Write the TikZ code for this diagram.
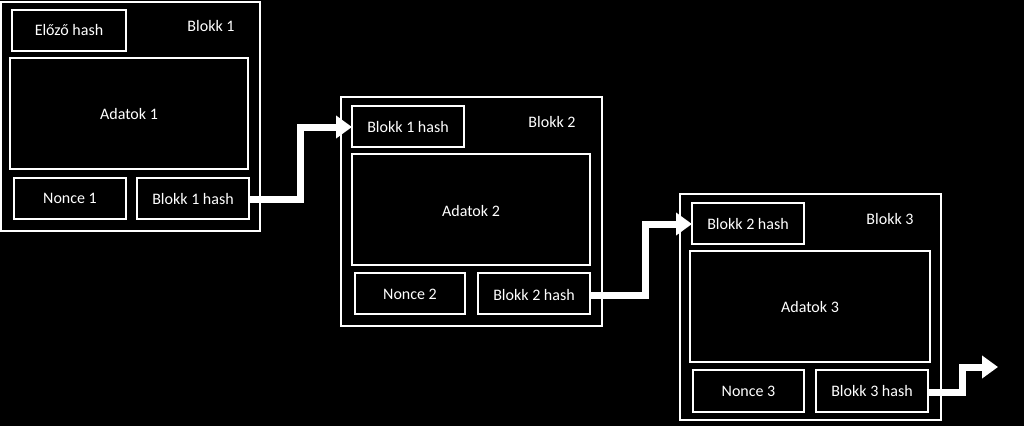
\documentclass[tikz,border=0pt]{standalone}
\usepackage{fontspec}
\setmainfont{Carlito}
\usetikzlibrary{arrows.meta}
\begin{document}
\begin{tikzpicture}[x=1pt,y=-1pt,
  box/.style={draw=white,line width=2.6pt,inner sep=0pt},
  txt/.style={text=white,font=\fontsize{16}{18}\selectfont},
  link/.style={draw=white,line width=7pt,-{Triangle[width=22pt,length=16pt]}}]
\fill[black] (0,0) rectangle (1024,426);
\useasboundingbox (0,0) rectangle (1024,426);
% Block 1
\draw[box] (1,2) rectangle (260,231);
\draw[box] (12,10) rectangle (126,51);
\node[txt] (p1) at (69,30.5) {Előző hash};
\node[txt] (l1) at (211,26) {Blokk 1};
\draw[box] (10,58) rectangle (248,169);
\node[txt] (a1) at (129,114) {Adatok 1};
\draw[box] (14,178) rectangle (126,219);
\node[txt] (n1) at (70,198.5) {Nonce 1};
\draw[box] (137,178) rectangle (249,219);
\node[txt] (h1) at (193,198.5) {Blokk 1 hash};
\coordinate (h1e) at (250,199);
% Block 2
\draw[box] (341,97) rectangle (602,326);
\draw[box] (352,106) rectangle (464,147);
\node[txt] (p2) at (408,126.5) {Blokk 1 hash};
\node[txt] (l2) at (552,122) {Blokk 2};
\draw[box] (352,154) rectangle (590,265);
\node[txt] (a2) at (471,211) {Adatok 2};
\draw[box] (355,273) rectangle (465,314);
\node[txt] (n2) at (410,294.5) {Nonce 2};
\draw[box] (478,273) rectangle (590,314);
\node[txt] (h2) at (534,294.5) {Blokk 2 hash};
\coordinate (p2w) at (352,127);
\coordinate (h2e) at (591,295);
% Block 3
\draw[box] (680,194) rectangle (941,420);
\draw[box] (692,203) rectangle (804,244);
\node[txt] (p3) at (748,223.5) {Blokk 2 hash};
\node[txt] (l3) at (890,219) {Blokk 3};
\draw[box] (690,251) rectangle (930,362);
\node[txt] (a3) at (810,307) {Adatok 3};
\draw[box] (693,370) rectangle (804,412);
\node[txt] (n3) at (748.5,391) {Nonce 3};
\draw[box] (816,370) rectangle (928,412);
\node[txt] (h3) at (872,391) {Blokk 3 hash};
\coordinate (p3w) at (692,224);
\coordinate (h3e) at (929,392);
\coordinate (out) at (998,367);
% links
\draw[link] (h1e) -- (300,199) -- (300,127) -- (p2w);
\draw[link] (h2e) -- (645,295) -- (645,224) -- (p3w);
\draw[link] (h3e) -- (962,392) -- (962,367) -- (out);
\end{tikzpicture}
\end{document}
